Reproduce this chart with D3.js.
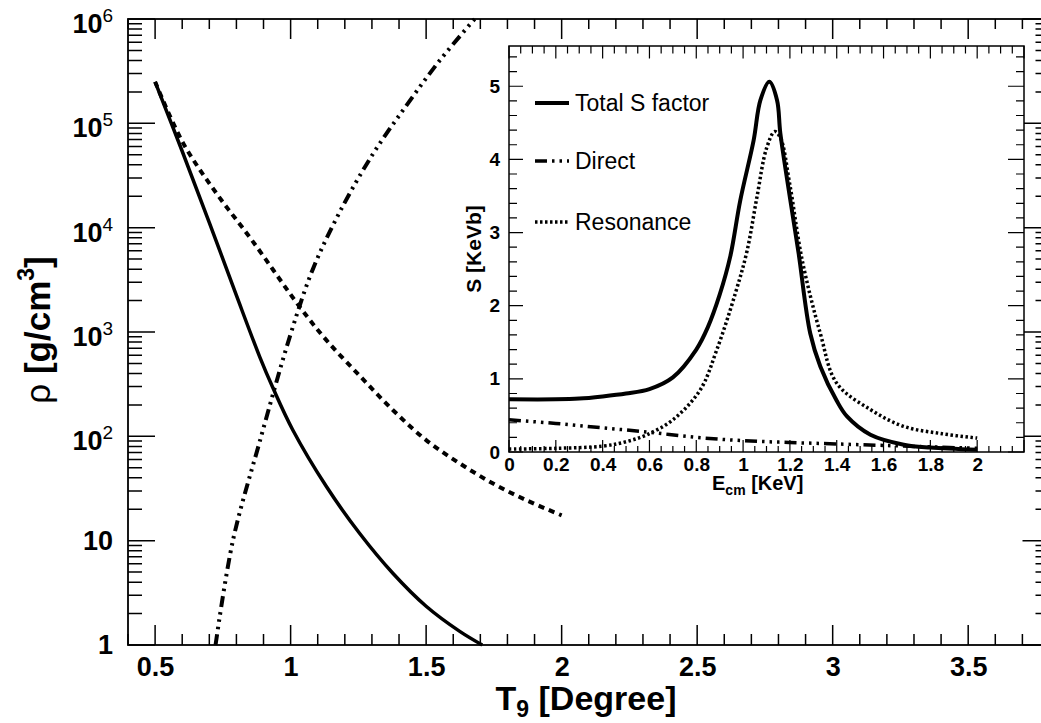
<!DOCTYPE html>
<html>
<head>
<meta charset="utf-8">
<script src="https://cdn.jsdelivr.net/npm/d3@7"></script>
<style>
body { margin: 0; background: #fff; }
svg { font-family: "Liberation Sans", Arial, Helvetica, sans-serif; }
</style>
</head>
<body>
<div id="chart"></div>
<script>
// ---- main panel: density vs T9 ----
const tSolid   = [0.5, 0.6, 0.7, 0.8, 0.886, 0.935, 1.008, 1.132, 1.255, 1.378, 1.5, 1.624, 1.707];
const rhoSolid = [2.5e5, 5.4e4, 1.12e4, 2240, 578, 290, 115, 33, 11.7, 4.84, 2.35, 1.35, 1.0];

const tDashed   = [0.5, 0.603, 0.726, 0.857, 1.033, 1.132, 1.255, 1.378, 1.5, 1.624, 1.747, 1.87, 2.0];
const rhoDashed = [2.5e5, 6.5e4, 2.14e4, 7600, 1750, 836, 380, 178, 92, 55, 35.3, 24.4, 17.5];

const tDashDot   = [0.723, 0.787, 0.886, 1.0, 1.082, 1.181, 1.304, 1.427, 1.55, 1.679];
const rhoDashDot = [1, 10, 89, 955, 4000, 1.41e4, 5.1e4, 1.48e5, 4e5, 1e6];

const mainXTicks = [0.5, 1, 1.5, 2, 2.5, 3, 3.5];
const mainYTicks = [1, 10, 1e2, 1e3, 1e4, 1e5, 1e6];

// ---- inset: S factor vs Ecm ----
const eTotal = [0, 0.2, 0.3, 0.4, 0.5, 0.6, 0.7, 0.8, 0.85, 0.9, 0.945, 0.988, 1.045, 1.074, 1.112, 1.145, 1.159, 1.202, 1.237, 1.287, 1.33, 1.4, 1.444, 1.544, 1.686, 1.8, 2.0];
const sTotal = [0.72, 0.72, 0.73, 0.76, 0.8, 0.86, 1.02, 1.4, 1.71, 2.15, 2.67, 3.44, 4.26, 4.81, 5.06, 4.81, 4.36, 3.44, 2.72, 1.62, 1.17, 0.7, 0.486, 0.236, 0.1, 0.06, 0.03];

const eDirect = [0, 0.2, 0.4, 0.6, 0.8, 1.0, 1.2, 1.4, 1.6, 1.8, 2.0];
const sDirect = [0.44, 0.39, 0.33, 0.27, 0.2, 0.155, 0.13, 0.11, 0.09, 0.07, 0.05];

const eReson = [0, 0.2, 0.4, 0.5, 0.589, 0.7, 0.817, 0.888, 0.967, 1.017, 1.06, 1.1, 1.135, 1.159, 1.2, 1.252, 1.33, 1.4, 1.544, 1.686, 1.85, 2.0];
const sReson = [0.04, 0.05, 0.08, 0.14, 0.236, 0.44, 0.85, 1.4, 2.17, 2.75, 3.5, 4.15, 4.38, 4.3, 3.65, 2.63, 1.62, 0.94, 0.58, 0.35, 0.25, 0.19];

const insetXTicks = [0, 0.2, 0.4, 0.6, 0.8, 1, 1.2, 1.4, 1.6, 1.8, 2, 2.2];
const insetYTicks = [0, 1, 2, 3, 4, 5];

const legendNames = ["Total S factor", "Direct", "Resonance"];

const W = 1041, H = 723;
const svg = d3.select("#chart").append("svg")
    .attr("width", W)
    .attr("height", H);

// scales
const x = d3.scaleLinear().domain([0.4, 3.8]).range([128, 1049.5]);
const y = d3.scaleLog().domain([1, 1e6]).range([645, 19]);

const ix = d3.scaleLinear().domain([0, 2.2]).range([509, 1024]);
const iy = d3.scaleLinear().domain([0, 5.55]).range([452, 46]);

// tick marks pointing into the frame, one path per set
function tickPath(parent, scale, values, side, pos, len, sw) {
  const horiz = side === "bottom" || side === "top";
  const dir = (side === "bottom" || side === "right") ? -1 : 1;
  const d = values.map(v => horiz
      ? `M${scale(v)},${pos}V${pos + dir * len}`
      : `M${pos},${scale(v)}H${pos + dir * len}`).join("");
  parent.append("path")
      .attr("d", d)
      .attr("fill", "none")
      .attr("stroke", "#000")
      .attr("stroke-width", sw);
}

// tick labels only, from d3 axis
function labelAxis(parent, tx, ty, gen, size) {
  const g = parent.append("g").attr("transform", `translate(${tx},${ty})`).call(gen);
  g.select(".domain").remove();
  g.selectAll(".tick line").remove();
  g.selectAll("text").attr("font-size", size).attr("font-weight", "bold").attr("fill", "#000");
  return g;
}

// ---- main axes ----
const minorX = d3.range(4, 39).map(i => i / 10).filter(v => Math.round(v * 10) % 5 !== 0);
const minorY = [];
for (let e = 0; e < 6; e++) for (let k = 2; k <= 9; k++) minorY.push(k * Math.pow(10, e));

const main = svg.append("g");

tickPath(main, x, minorX, "bottom", 645, 11, 1.5);
tickPath(main, x, mainXTicks, "bottom", 645, 20, 1.5);
tickPath(main, x, minorX, "top", 19, 10, 1.5);
tickPath(main, x, mainXTicks, "top", 19, 20, 1.5);
tickPath(main, y, minorY, "left", 128, 14, 1.5);
tickPath(main, y, mainYTicks, "left", 128, 27, 1.5);
tickPath(main, y, minorY, "right", 1049.5, 14, 1.5);
tickPath(main, y, mainYTicks, "right", 1049.5, 27, 1.5);

labelAxis(main, 0, 645, d3.axisBottom(x).tickValues(mainXTicks).tickSize(0).tickPadding(12).tickFormat(d3.format("")), 27);
const yAx = labelAxis(main, 128, 0, d3.axisLeft(y).tickValues(mainYTicks).tickSize(0).tickPadding(15), 27);
yAx.selectAll("text").each(function(d) {
  const t = d3.select(this).text("");
  const e = Math.round(Math.log10(d));
  if (e < 2) {
    t.text(d);
  } else {
    t.attr("dy", "0.5em");
    t.append("tspan").text("10");
    t.append("tspan").attr("dy", -11).attr("font-size", 19).attr("font-weight", "normal").text(e);
  }
});

main.append("rect")
    .attr("x", 128).attr("y", 19)
    .attr("width", 1049.5 - 128).attr("height", 645 - 19)
    .attr("fill", "none").attr("stroke", "#000").attr("stroke-width", 1.8);

// axis titles
const xt = svg.append("text")
    .attr("x", 586).attr("y", 710)
    .attr("text-anchor", "middle")
    .attr("font-size", 34).attr("font-weight", "bold");
xt.append("tspan").text("T");
xt.append("tspan").attr("font-size", 23).attr("dy", 7).text("9");
xt.append("tspan").attr("dy", -7).text(" [Degree]");

const yt = svg.append("text")
    .attr("transform", "translate(50,330) rotate(-90)")
    .attr("text-anchor", "middle")
    .attr("font-size", 35).attr("font-weight", "bold");
yt.append("tspan").attr("font-weight", "normal").text("ρ");
yt.append("tspan").text(" [g/cm");
yt.append("tspan").attr("font-size", 23).attr("dy", -16).text("3");
yt.append("tspan").attr("dy", 16).text("]");

// curves
const mline = d3.line()
    .x(d => x(d[0]))
    .y(d => y(d[1]))
    .curve(d3.curveCatmullRom.alpha(0.5));

const curves = svg.append("g");
curves.append("path")
    .attr("d", mline(d3.zip(tSolid, rhoSolid)))
    .attr("fill", "none").attr("stroke", "#000").attr("stroke-width", 3.5);
curves.append("path")
    .attr("d", mline(d3.zip(tDashed, rhoDashed)))
    .attr("fill", "none").attr("stroke", "#000").attr("stroke-width", 4)
    .attr("stroke-dasharray", "6,5");
curves.append("path")
    .attr("d", mline(d3.zip(tDashDot, rhoDashDot)))
    .attr("fill", "none").attr("stroke", "#000").attr("stroke-width", 4)
    .attr("stroke-dasharray", "11,5,2.5,5,2.5,5,2.5,5");

// ---- inset ----
const inset = svg.append("g");
inset.append("rect")
    .attr("x", 509).attr("y", 46)
    .attr("width", 1024 - 509).attr("height", 452 - 46)
    .attr("fill", "#fff");

const iMinorX = d3.range(0, 45).filter(i => i % 4 !== 0).map(i => i * 0.05);
const iMinorY = d3.range(0, 28).filter(i => i % 5 !== 0).map(i => i * 0.2);

tickPath(inset, ix, iMinorX, "bottom", 452, 6, 1.2);
tickPath(inset, ix, insetXTicks, "bottom", 452, 12, 1.2);
tickPath(inset, ix, iMinorX, "top", 46, 7.5, 1.2);
tickPath(inset, ix, insetXTicks, "top", 46, 12.5, 1.2);
tickPath(inset, iy, iMinorY, "left", 509, 8, 1.2);
tickPath(inset, iy, insetYTicks, "left", 509, 14, 1.2);
tickPath(inset, iy, iMinorY, "right", 1024, 8, 1.2);
tickPath(inset, iy, insetYTicks, "right", 1024, 16, 1.2);

labelAxis(inset, 0, 452, d3.axisBottom(ix).tickValues(insetXTicks).tickSize(0).tickPadding(6)
    .tickFormat(d => d > 2.05 ? "" : d3.format("")(d)), 19);
labelAxis(inset, 509, 0, d3.axisLeft(iy).tickValues(insetYTicks).tickSize(0).tickPadding(9)
    .tickFormat(d3.format("")), 19);

inset.append("rect")
    .attr("x", 509).attr("y", 46)
    .attr("width", 1024 - 509).attr("height", 452 - 46)
    .attr("fill", "none").attr("stroke", "#000").attr("stroke-width", 1.5);

const iline = d3.line()
    .x(d => ix(d[0]))
    .y(d => iy(d[1]))
    .curve(d3.curveCatmullRom.alpha(0.5));

inset.append("path")
    .attr("d", iline(d3.zip(eReson, sReson)))
    .attr("fill", "none").attr("stroke", "#000").attr("stroke-width", 3.5)
    .attr("stroke-dasharray", "2.5,2.5");
inset.append("path")
    .attr("d", iline(d3.zip(eDirect, sDirect)))
    .attr("fill", "none").attr("stroke", "#000").attr("stroke-width", 3.5)
    .attr("stroke-dasharray", "12,5,2.5,5,2.5,5,2.5,5");
inset.append("path")
    .attr("d", iline(d3.zip(eTotal, sTotal)))
    .attr("fill", "none").attr("stroke", "#000").attr("stroke-width", 4);

// inset titles
const ixt = inset.append("text")
    .attr("x", 712).attr("y", 490)
    .attr("font-size", 20).attr("font-weight", "bold");
ixt.append("tspan").text("E");
ixt.append("tspan").attr("font-size", 14).attr("dy", 5).text("cm");
ixt.append("tspan").attr("dy", -5).text(" [KeV]");

inset.append("text")
    .attr("transform", "translate(481,249) rotate(-90)")
    .attr("text-anchor", "middle")
    .attr("font-size", 21).attr("font-weight", "bold")
    .text("S [KeVb]");

// legend
const dashes = [null, "12,5,2.5,5,2.5,5", "2.5,2.5"];
const legY = [103, 161, 222];
legendNames.forEach((name, i) => {
  inset.append("line")
      .attr("x1", 535).attr("x2", 569)
      .attr("y1", legY[i]).attr("y2", legY[i])
      .attr("stroke", "#000").attr("stroke-width", i === 0 ? 4 : 3.5)
      .attr("stroke-dasharray", dashes[i]);
  inset.append("text")
      .attr("x", 575).attr("y", legY[i] + 8)
      .attr("font-size", 23)
      .text(name);
});
</script>
</body>
</html>
